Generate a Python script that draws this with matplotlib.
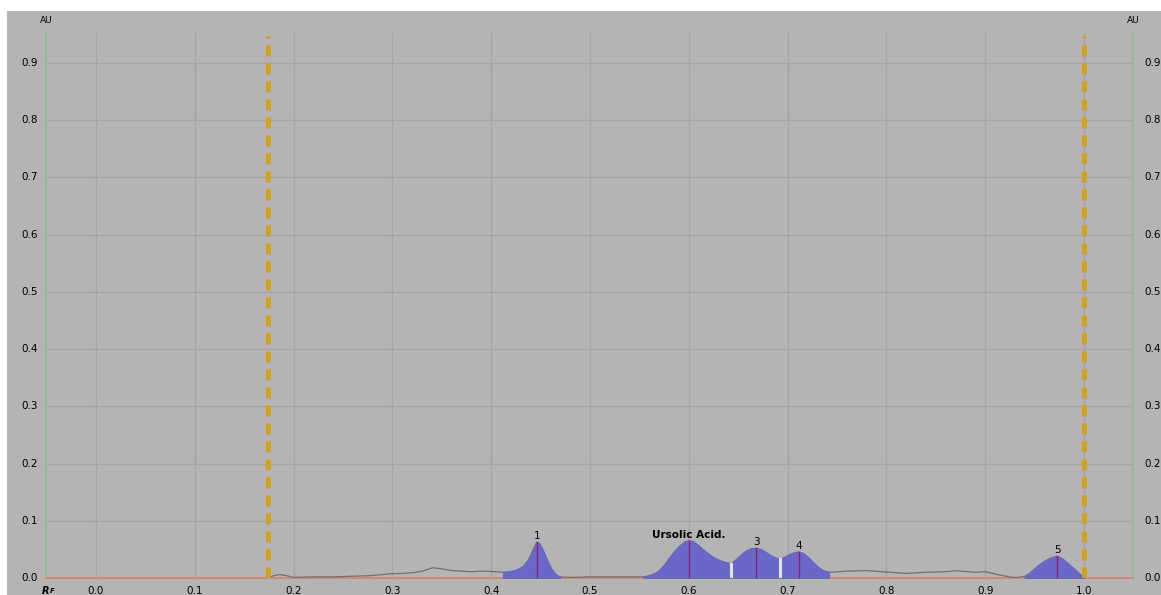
import matplotlib
matplotlib.use("Agg")
import matplotlib.pyplot as plt
import numpy as np
from matplotlib.patches import Rectangle

# ---- data ----
rf = [0.174, 0.180, 0.186, 0.193, 0.200, 0.220, 0.240, 0.257, 0.277, 0.290,
      0.300, 0.310, 0.320, 0.330, 0.341, 0.350, 0.360, 0.370, 0.380, 0.390,
      0.400, 0.412, 0.418, 0.424, 0.429, 0.433, 0.437, 0.440, 0.443, 0.4464,
      0.449, 0.452, 0.455, 0.458, 0.461, 0.464, 0.467, 0.470, 0.480, 0.500,
      0.520, 0.540, 0.554, 0.560, 0.566, 0.571, 0.576, 0.581, 0.586, 0.591,
      0.596, 0.600, 0.604, 0.609, 0.614, 0.620, 0.626, 0.632, 0.638, 0.643,
      0.648, 0.653, 0.658, 0.663, 0.668, 0.673, 0.678, 0.683, 0.688, 0.692,
      0.697, 0.702, 0.707, 0.7115, 0.716, 0.721, 0.726, 0.731, 0.736, 0.742,
      0.760, 0.780, 0.800, 0.820, 0.840, 0.860, 0.870, 0.890, 0.900, 0.915,
      0.928, 0.934, 0.940, 0.945, 0.950, 0.955, 0.960, 0.965, 0.9727, 0.978,
      0.984, 0.990, 0.995, 1.000]
au = [0.000, 0.004, 0.006, 0.004, 0.001, 0.002, 0.002, 0.003, 0.004, 0.006,
      0.0075, 0.008, 0.009, 0.012, 0.018, 0.016, 0.013, 0.012, 0.011, 0.012,
      0.0115, 0.010, 0.011, 0.013, 0.0165, 0.021, 0.030, 0.040, 0.052, 0.063,
      0.060, 0.050, 0.038, 0.026, 0.016, 0.009, 0.004, 0.002, 0.001, 0.002,
      0.002, 0.002, 0.002, 0.004, 0.008, 0.014, 0.024, 0.036, 0.047, 0.056,
      0.063, 0.065, 0.064, 0.058, 0.050, 0.042, 0.035, 0.030, 0.027, 0.025,
      0.032, 0.040, 0.047, 0.051, 0.052, 0.050, 0.045, 0.039, 0.035, 0.033,
      0.036, 0.041, 0.044, 0.0455, 0.043, 0.036, 0.027, 0.019, 0.013, 0.010,
      0.012, 0.013, 0.0105, 0.008, 0.010, 0.011, 0.0128, 0.010, 0.011, 0.005,
      0.001, 0.001, 0.003, 0.008, 0.016, 0.023, 0.029, 0.034, 0.038, 0.034,
      0.025, 0.016, 0.008, 0.000]

# peak regions (start, end), apex Rf, label
peak_start = [0.412, 0.554, 0.643, 0.692, 0.940]
peak_end = [0.470, 0.643, 0.692, 0.742, 1.000]
peak_apex = [0.4464, 0.600, 0.668, 0.7115, 0.9727]
peak_label = ["1", "Ursolic Acid.", "3", "4", "5"]
gap_rf = [0.643, 0.692]
front_lines = [0.174, 1.0]

xticks = [0.0, 0.1, 0.2, 0.3, 0.4, 0.5, 0.6, 0.7, 0.8, 0.9, 1.0]
yticks = [0.0, 0.1, 0.2, 0.3, 0.4, 0.5, 0.6, 0.7, 0.8, 0.9]

# ---- figure ----
W, H = 1161, 595
fig = plt.figure(figsize=(W / 100, H / 100), dpi=100, facecolor="white")
bg = "#b4b4b4"
fig.patches.append(Rectangle((7 / W, 0), 1 - 7 / W, 1 - 11 / H,
                             transform=fig.transFigure, facecolor=bg,
                             edgecolor="none", zorder=-5))

ax = fig.add_axes([46 / W, 1 - 578 / H, (1133 - 46) / W, (578 - 33) / H])
ax.set_zorder(1)
ax.set_facecolor(bg)
ax.set_xlim(-0.0506, 1.0496)
ax.set_ylim(0, 0.9525)
for s in ax.spines.values():
    s.set_visible(False)

grid_c = "#a4a4a4"
for x in xticks:
    ax.axvline(x, color=grid_c, lw=0.9, zorder=1)
for y in yticks[1:]:
    ax.axhline(y, color=grid_c, lw=0.9, zorder=1)

# axes lines
green = "#8cc08a"
ax.axvline(-0.0506, color=green, lw=1.5, zorder=2, clip_on=False)
ax.axvline(1.0496, color=green, lw=1.5, zorder=2, clip_on=False)
ax.axhline(0, color="#d88470", lw=1.3, zorder=2, clip_on=False)

rf_a = np.array(rf)
au_a = np.array(au)
ax.plot(rf_a, au_a, color="#707070", lw=0.9, zorder=3)

fill_c = "#6967c8"
for s0, s1 in zip(peak_start, peak_end):
    m = (rf_a >= s0 - 1e-9) & (rf_a <= s1 + 1e-9)
    ax.fill_between(rf_a[m], 0, au_a[m], color=fill_c, lw=0.8,
                    edgecolor=fill_c, zorder=4)

for g in gap_rf:
    h = np.interp(g, rf_a, au_a)
    ax.plot([g, g], [0, h], color="#e2e2e2", lw=2.2, zorder=5)

for a, lab in zip(peak_apex, peak_label):
    h = np.interp(a, rf_a, au_a)
    ax.plot([a, a], [0, h], color="#8a1f6e", lw=1.0, zorder=6)
    bold = lab.startswith("Ursolic")
    ax.text(a, h + 0.002, lab, ha="center", va="bottom",
            fontsize=7.5, fontweight="bold" if bold else "normal",
            color="black", zorder=7)

for fx in front_lines:
    ax.plot([fx, fx], [0, 0.948], color="#d1a21c", lw=3.6,
            dashes=(2.2, 1.4), zorder=6, solid_capstyle="butt")

ax.set_xticks([])
ax.set_yticks([])
for y in yticks:
    ax.text(-0.0506 - 0.008, y, f"{y:.1f}", ha="right", va="center",
            fontsize=7.5, transform=ax.transData, clip_on=False)
    ax.text(1.0496 + 0.012, y, f"{y:.1f}", ha="left", va="center",
            fontsize=7.5, transform=ax.transData, clip_on=False)
for x in xticks:
    ax.text(x, -0.022, f"{x:.1f}", ha="center", va="center",
            fontsize=7.5, clip_on=False)
ax.text(-0.0506, -0.022, "R", ha="center", va="center", fontsize=7,
        style="italic", fontweight="bold", clip_on=False)
ax.text(-0.0506 + 0.0065, -0.0235, "F", ha="center", va="center", fontsize=5,
        style="italic", fontweight="bold", clip_on=False)
ax.text(-0.0506, 0.975, "AU", ha="center", va="center", fontsize=6.5,
        clip_on=False)
ax.text(1.0496, 0.975, "AU", ha="center", va="center", fontsize=6.5,
        clip_on=False)

fig.savefig("out.png", dpi=100, facecolor="white")
